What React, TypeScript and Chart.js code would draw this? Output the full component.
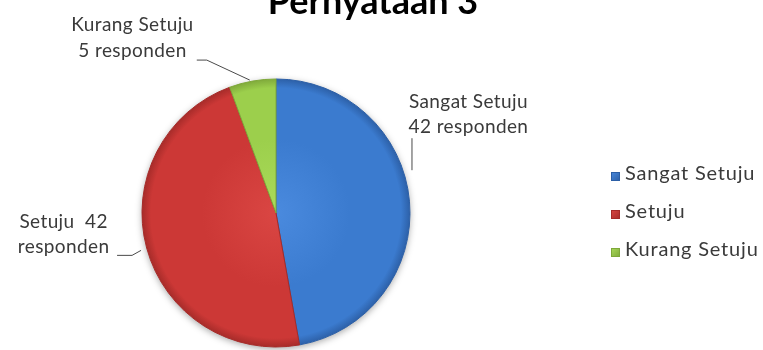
import { useEffect, useRef } from "react";
import { Chart, registerables } from "chart.js";

Chart.register(...registerables);

// Survey answers for statement 3
const titleText = "Pernyataan 3";
const categories = ["Sangat Setuju", "Setuju", "Kurang Setuju"];
const responden = [42, 42, 5];
const unitLabel = "responden";

// Slice fills: highlight, base, rim
const lightColors = ["#4a8ade", "#da4643", "#aadb5a"];
const baseColors = ["#3b7bcf", "#cc3836", "#9ccf4c"];
const rimColors = ["#2c5fa6", "#a52b29", "#7ea83a"];

const FONT = "Lato, 'Open Sans', sans-serif";
const LABEL_COLOR = "#3a3a3a";

// Text for each slice label, built from the data
function sliceLines(i: number): string[] {
  if (i === 1) return [`${categories[i]}  ${responden[i]}`, unitLabel];
  return [categories[i], `${responden[i]} ${unitLabel}`];
}

// Placement of each label relative to the rim point at the slice's mid angle
const labelLayout = [
  { dx: 59, baselines: [-93, -68], leader: [[2.5, -63], [2.5, -31]] },
  { dx: -83, baselines: [-20, 5], leader: [[-29.6, 7.3], [-14.6, 7.3], [-5.6, 2.3]] },
  { dx: -120, baselines: [-50, -24], leader: [[-55.7, -21], [-45.7, -21], [-2.7, -1]] },
];

const shadowPlugin = {
  id: "pieShadow",
  beforeDatasetsDraw(chart: any) {
    const arc = chart.getDatasetMeta(0).data[0];
    if (!arc) return;
    const { x, y, outerRadius } = arc.getProps(["x", "y", "outerRadius"], true);
    const ctx = chart.ctx;
    ctx.save();
    ctx.shadowColor = "rgba(0,0,0,0.35)";
    ctx.shadowBlur = 7;
    ctx.shadowOffsetY = 2;
    ctx.beginPath();
    ctx.arc(x, y, outerRadius, 0, Math.PI * 2);
    ctx.fillStyle = "#ffffff";
    ctx.fill();
    ctx.restore();
  },
};

const decorPlugin = {
  id: "pieDecor",
  afterDraw(chart: any) {
    const ctx = chart.ctx;
    const meta = chart.getDatasetMeta(0);

    // Title, sitting against the top edge
    ctx.save();
    ctx.fillStyle = "#000000";
    ctx.font = `bold 36px ${FONT}`;
    ctx.textAlign = "center";
    ctx.textBaseline = "alphabetic";
    ctx.fillText(titleText, 373, 14);
    ctx.restore();

    // Data labels with leader lines
    meta.data.forEach((arc: any, i: number) => {
      const { x, y, startAngle, endAngle, outerRadius } = arc.getProps(
        ["x", "y", "startAngle", "endAngle", "outerRadius"],
        true
      );
      const mid = (startAngle + endAngle) / 2;
      const ax = x + Math.cos(mid) * outerRadius;
      const ay = y + Math.sin(mid) * outerRadius;
      const lay = labelLayout[i];
      ctx.save();
      ctx.fillStyle = LABEL_COLOR;
      ctx.font = `19px ${FONT}`;
      ctx.letterSpacing = "0.4px";
      ctx.textAlign = "center";
      ctx.textBaseline = "alphabetic";
      sliceLines(i).forEach((line, k) => {
        ctx.fillText(line, ax + lay.dx, ay + lay.baselines[k]);
      });
      ctx.strokeStyle = "#4a4a4a";
      ctx.lineWidth = 1;
      ctx.beginPath();
      lay.leader.forEach((p, k) => {
        const px = ax + p[0];
        const py = ay + p[1];
        if (k === 0) ctx.moveTo(px, py);
        else ctx.lineTo(px, py);
      });
      ctx.stroke();
      ctx.restore();
    });

    // Legend on the right
    ctx.save();
    ctx.font = `20px ${FONT}`;
    ctx.letterSpacing = "0.8px";
    ctx.textAlign = "left";
    ctx.textBaseline = "alphabetic";
    categories.forEach((name, i) => {
      const top = 172 + i * 38;
      const g = ctx.createLinearGradient(611, top, 620, top + 9);
      g.addColorStop(0, lightColors[i]);
      g.addColorStop(1, rimColors[i]);
      ctx.fillStyle = g;
      ctx.fillRect(611, top, 9, 9);
      ctx.strokeStyle = rimColors[i];
      ctx.strokeRect(611.5, top + 0.5, 8, 8);
      ctx.fillStyle = LABEL_COLOR;
      ctx.fillText(name, 625, top + 8);
    });
    ctx.restore();
  },
};

export default function App() {
  const canvasRef = useRef<HTMLCanvasElement | null>(null);

  useEffect(() => {
    if (!canvasRef.current) return;
    const fillFor = (ctx: any) => {
      const i = ctx.dataIndex;
      const area = ctx.chart.chartArea;
      if (!area) return baseColors[i];
      const cx = (area.left + area.right) / 2;
      const cy = (area.top + area.bottom) / 2;
      const r = Math.min(area.right - area.left, area.bottom - area.top) / 2;
      const g = ctx.chart.ctx.createRadialGradient(cx, cy, 0, cx, cy, r);
      g.addColorStop(0, lightColors[i]);
      g.addColorStop(0.55, baseColors[i]);
      g.addColorStop(0.93, baseColors[i]);
      g.addColorStop(1, rimColors[i]);
      return g;
    };

    const chart = new Chart(canvasRef.current, {
      type: "pie",
      data: {
        labels: categories,
        datasets: [
          {
            data: responden,
            backgroundColor: fillFor,
            borderColor: rimColors,
            borderWidth: 1,
            hoverOffset: 0,
          },
        ],
      },
      options: {
        responsive: true,
        maintainAspectRatio: false,
        animation: false,
        layout: { padding: { top: 78.5, bottom: 2.5, left: 0, right: 211 } },
        plugins: {
          legend: { display: false },
          title: { display: false },
          tooltip: { enabled: false },
        },
      },
      plugins: [shadowPlugin, decorPlugin],
    });
    return () => chart.destroy();
  }, []);

  return (
    <div style={{ position: "fixed", left: 0, top: 0, width: 763, height: 350, background: "#ffffff" }}>
      <canvas ref={canvasRef} />
    </div>
  );
}
